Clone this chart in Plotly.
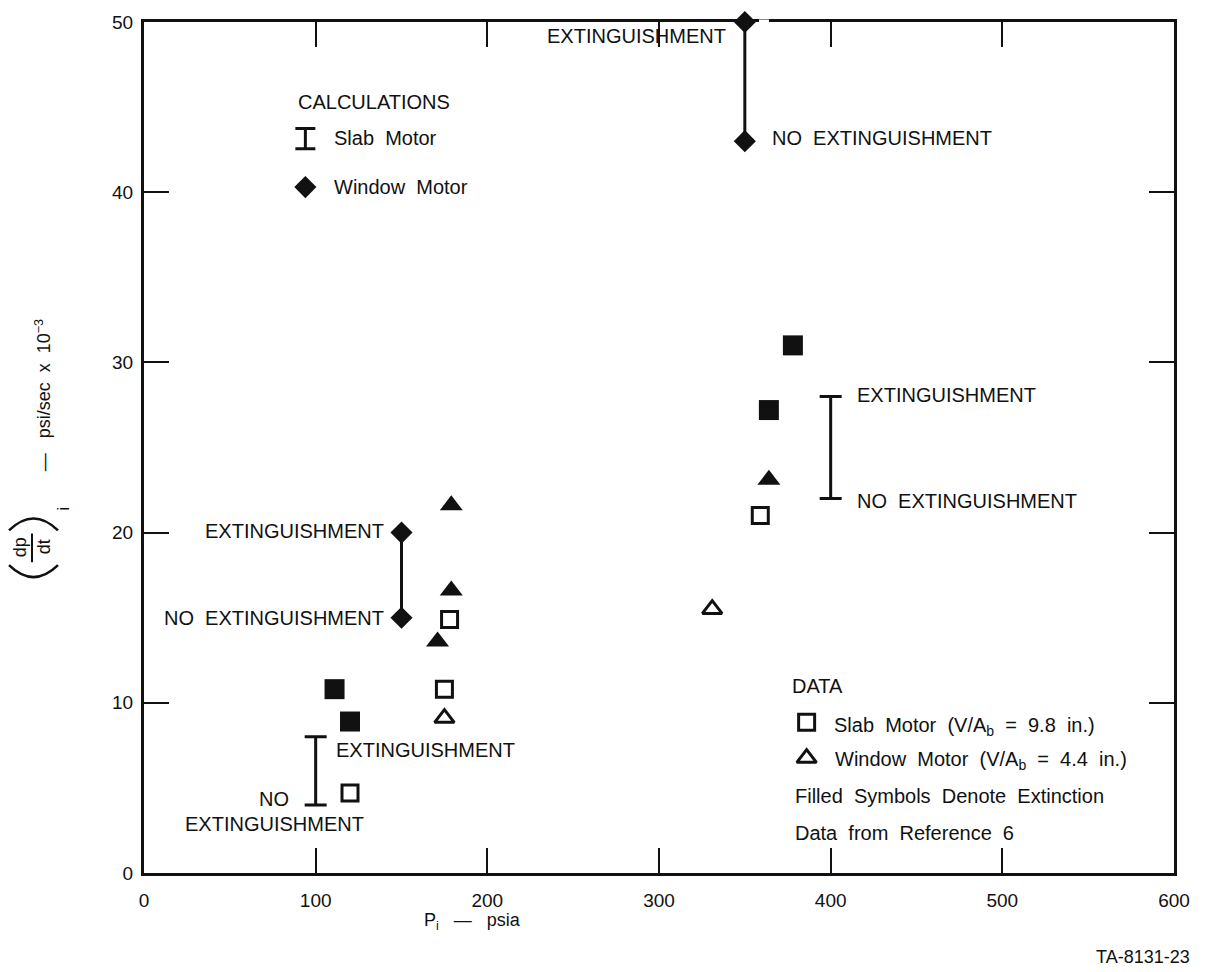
import plotly.graph_objects as go

# ---- data -------------------------------------------------------------
# Slab motor data (open = no extinction, filled = extinction)
slab_open_x = [120, 175, 178, 359]
slab_open_y = [4.7, 10.8, 14.9, 21.0]
slab_filled_x = [111, 120, 364, 378]
slab_filled_y = [10.8, 8.9, 27.2, 31.0]

# Window motor data
window_open_x = [175, 331]
window_open_y = [9.1, 15.5]
window_filled_x = [179, 179, 171, 364]
window_filled_y = [21.6, 16.6, 13.6, 23.1]

# Calculated extinction boundaries
calc_slab_x = [100, 400]
calc_slab_low = [4, 22]
calc_slab_high = [8, 28]
calc_window_x = [150, 350]
calc_window_low = [15, 43]
calc_window_high = [20, 50]

x_ticks = [0, 100, 200, 300, 400, 500, 600]
y_ticks = [0, 10, 20, 30, 40, 50]

# ---- geometry helpers -------------------------------------------------
W, H = 1208, 972
L, R, T, B = 144, 1174, 16, 873


def px(x):
    return (x - L) / (R - L)


def py(y):
    return (B - y) / (B - T)


FONT = "Liberation Sans, Arial, Helvetica, sans-serif"
INK = "#111111"

fig = go.Figure()

# Slab motor calculation: I-bars
fig.add_trace(go.Scatter(
    x=calc_slab_x,
    y=[(lo + hi) / 2 for lo, hi in zip(calc_slab_low, calc_slab_high)],
    mode="markers",
    marker=dict(size=1, color="rgba(0,0,0,0)"),
    error_y=dict(type="data", symmetric=True,
                 array=[(hi - lo) / 2 for lo, hi in zip(calc_slab_low, calc_slab_high)],
                 color=INK, thickness=3, width=11),
    cliponaxis=False, hoverinfo="skip", showlegend=False))

# Window motor calculation: diamonds joined by a line
wx, wy = [], []
for x, lo, hi in zip(calc_window_x, calc_window_low, calc_window_high):
    wx += [x, x, None]
    wy += [lo, hi, None]
fig.add_trace(go.Scatter(
    x=wx, y=wy, mode="lines+markers",
    line=dict(color=INK, width=3),
    marker=dict(symbol="diamond", size=17, color=INK),
    cliponaxis=False, hoverinfo="skip", showlegend=False))

# Measured points
fig.add_trace(go.Scatter(
    x=slab_open_x, y=slab_open_y, mode="markers",
    marker=dict(symbol="square", size=16, color="white",
                line=dict(color=INK, width=3)),
    hoverinfo="skip", showlegend=False))
fig.add_trace(go.Scatter(
    x=slab_filled_x, y=slab_filled_y, mode="markers",
    marker=dict(symbol="square", size=20, color=INK),
    hoverinfo="skip", showlegend=False))
fig.add_trace(go.Scatter(
    x=window_open_x, y=window_open_y, mode="markers",
    marker=dict(symbol="triangle-up", size=17, color="white",
                line=dict(color=INK, width=3)),
    hoverinfo="skip", showlegend=False))
fig.add_trace(go.Scatter(
    x=window_filled_x, y=window_filled_y, mode="markers",
    marker=dict(symbol="triangle-up", size=20, color=INK),
    hoverinfo="skip", showlegend=False))

# Key symbols
fig.add_trace(go.Scatter(
    x=[94], y=[43.15], mode="markers",
    marker=dict(size=1, color="rgba(0,0,0,0)"),
    error_y=dict(type="data", array=[0.6], color=INK, thickness=3, width=10),
    hoverinfo="skip", showlegend=False))
fig.add_trace(go.Scatter(
    x=[94], y=[40.3], mode="markers",
    marker=dict(symbol="diamond", size=17, color=INK),
    hoverinfo="skip", showlegend=False))
fig.add_trace(go.Scatter(
    x=[386], y=[8.86], mode="markers",
    marker=dict(symbol="square", size=16, color="white",
                line=dict(color=INK, width=3)),
    hoverinfo="skip", showlegend=False))
fig.add_trace(go.Scatter(
    x=[386], y=[6.75], mode="markers",
    marker=dict(symbol="triangle-up", size=17, color="white",
                line=dict(color=INK, width=3)),
    hoverinfo="skip", showlegend=False))

# ---- text -------------------------------------------------------------
annotations = []


def label(text, x, y, anchor="left", size=20, angle=0, yanchor="middle"):
    annotations.append(dict(
        text=text, x=px(x), y=py(y), xref="paper", yref="paper",
        xanchor=anchor, yanchor=yanchor, showarrow=False, textangle=angle,
        font=dict(family=FONT, size=size, color=INK)))


label("CALCULATIONS", 296, 97)
label("Slab  Motor", 332, 133)
label("Window  Motor", 332, 182)

label("EXTINGUISHMENT", 728, 30, "right")
label("NO  EXTINGUISHMENT", 770, 133)
label("EXTINGUISHMENT", 386, 529, "right")
label("NO  EXTINGUISHMENT", 386, 616, "right")
label("EXTINGUISHMENT", 855, 392)
label("NO  EXTINGUISHMENT", 855, 498)
label("EXTINGUISHMENT", 334, 749)
label("NO", 274, 798, "center")
label("EXTINGUISHMENT", 274, 824, "center")

label("DATA", 790, 685)
label("Slab  Motor  (V/A<sub>b</sub>  =  9.8  in.)", 832, 725)
label("Window  Motor  (V/A<sub>b</sub>  =  4.4  in.)", 833, 760)
label("Filled  Symbols  Denote  Extinction", 793, 795)
label("Data  from  Reference  6", 793, 833)

label("P<sub>i</sub>   —   psia", 472, 922, "center", size=18)
label("TA-8131-23", 1192, 958, "right", size=18)

# y-axis title, built from pieces
label("—   psi/sec  x  10<sup>−3</sup>", 43, 392, "center", size=18, angle=-90)
label("dp", 20, 545, "center", size=18, angle=-90)
label("dt", 44, 545, "center", size=18, angle=-90)
label("i", 64, 506, "center", size=16, angle=-90)

shapes = []
# fraction bar
shapes.append(dict(type="line", xref="paper", yref="paper",
                   x0=px(32), x1=px(32), y0=py(531), y1=py(560),
                   line=dict(color=INK, width=2)))


def arc(x0, x1, y_end, y_ctrl):
    xm = (x0 + x1) / 2
    return dict(type="path", xref="paper", yref="paper",
                path=f"M {px(x0)},{py(y_end)} Q {px(xm)},{py(y_ctrl)} {px(x1)},{py(y_end)}",
                line=dict(color=INK, width=2.5))


shapes.append(arc(9, 58, 528, 504))   # closing parenthesis (top)
shapes.append(arc(9, 58, 563, 587))   # opening parenthesis (bottom)

# small break in the top frame just right of the 50 diamond
shapes.append(dict(type="line", xref="paper", yref="paper", layer="above",
                   x0=px(759), x1=px(769), y0=1, y1=1,
                   line=dict(color="white", width=5)))

axis_common = dict(
    showgrid=False, zeroline=False,
    showline=True, linecolor=INK, linewidth=3, mirror="allticks",
    ticks="inside", ticklen=25, tickwidth=2, tickcolor=INK,
    tickfont=dict(family=FONT, size=19, color=INK),
)

fig.update_layout(
    width=W, height=H,
    margin=dict(l=L, r=W - R, t=T, b=H - B),
    paper_bgcolor="white", plot_bgcolor="white",
    xaxis=dict(range=[0, 600], tickvals=x_ticks, ticklabelstandoff=8, **axis_common),
    yaxis=dict(range=[0, 50], tickvals=y_ticks, ticklabelstandoff=4, **axis_common),
    annotations=annotations, shapes=shapes,
    showlegend=False,
)

fig.write_html("out.html")
